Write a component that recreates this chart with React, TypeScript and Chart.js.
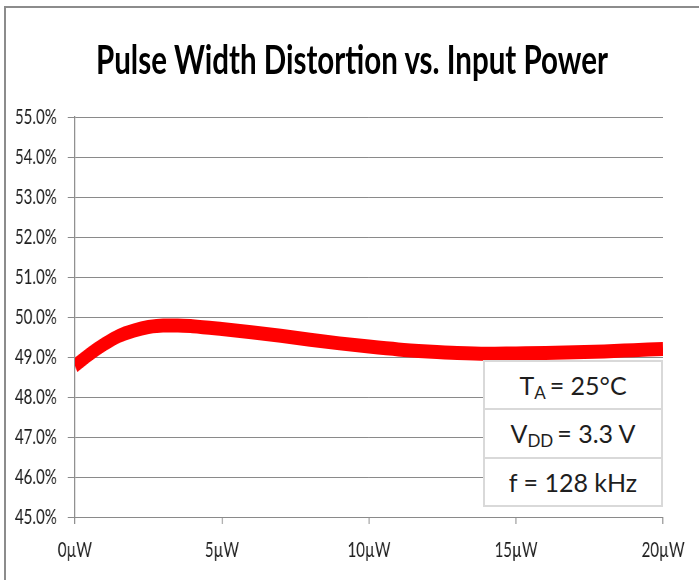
import React, { useEffect, useRef } from 'react';
import { Chart, registerables } from 'chart.js';

Chart.register(...registerables);

const TITLE = 'Pulse Width Distortion vs. Input Power';

// Input power (µW) and pulse width distortion (%)
const inputPowerUW = [0, 0.5, 1, 1.5, 2, 2.5, 3, 3.5, 4, 5, 6, 7, 8, 9, 10, 11, 12, 13, 14, 15, 16, 17, 18, 19, 20];
const pwdPercent = [48.78, 49.07, 49.32, 49.53, 49.66, 49.75, 49.79, 49.79, 49.77, 49.7, 49.62, 49.53, 49.43, 49.34, 49.26, 49.19, 49.14, 49.1, 49.08, 49.09, 49.1, 49.12, 49.14, 49.17, 49.2];

const xTickValues = [0, 5, 10, 15, 20];
const xTickLabels = ['0µW', '5µW', '10µW', '15µW', '20µW'];
const yTickValues = [45, 46, 47, 48, 49, 50, 51, 52, 53, 54, 55];
const yTickLabels = ['45.0%', '46.0%', '47.0%', '48.0%', '49.0%', '50.0%', '51.0%', '52.0%', '53.0%', '54.0%', '55.0%'];

const W = 699;
const H = 580;
const SQUEEZE = 0.72;
const CW = Math.round(W / SQUEEZE);
const GRID = '#8a8a8a';
const TEXT = '#1e1e1e';

export default function App() {
  const ref = useRef<HTMLCanvasElement>(null);

  useEffect(() => {
    document.body.style.margin = '0';
    const canvas = ref.current!;
    const chart = new Chart(canvas, {
      type: 'line',
      data: {
        datasets: [
          {
            data: inputPowerUW.map((x, i) => ({ x, y: pwdPercent[i] })),
            borderColor: '#ff0000',
            backgroundColor: '#ff0000',
            borderWidth: 14,
            pointRadius: 0,
            cubicInterpolationMode: 'monotone',
            borderCapStyle: 'butt',
            borderJoinStyle: 'round',
            fill: false,
          },
        ],
      },
      options: {
        responsive: false,
        animation: false,
        devicePixelRatio: 1,
        layout: { padding: { top: 117, right: 50, left: 0, bottom: 0 } },
        plugins: {
          legend: { display: false },
          tooltip: { enabled: false },
          title: { display: false },
        },
        scales: {
          x: {
            type: 'linear',
            min: 0,
            max: 20,
            afterBuildTicks: (s: any) => {
              s.ticks = xTickValues.map((v) => ({ value: v }));
            },
            afterFit: (s: any) => {
              s.height = 63;
            },
            ticks: {
              callback: (v: any) => xTickLabels[xTickValues.indexOf(Number(v))],
              color: TEXT,
              font: { family: 'Lato', size: 21 },
              padding: 14,
              maxRotation: 0,
              autoSkip: false,
            },
            grid: {
              drawOnChartArea: false,
              drawTicks: true,
              tickLength: 7,
              lineWidth: 1.4,
              color: GRID,
            },
            border: { color: GRID, width: 1 },
          },
          y: {
            type: 'linear',
            min: 45,
            max: 55,
            afterBuildTicks: (s: any) => {
              s.ticks = yTickValues.map((v) => ({ value: v }));
            },
            afterFit: (s: any) => {
              s.width = 104;
            },
            ticks: {
              callback: (v: any) => yTickLabels[yTickValues.indexOf(Number(v))],
              color: TEXT,
              font: { family: 'Lato', size: 21 },
              padding: 15,
              autoSkip: false,
            },
            grid: {
              color: GRID,
              lineWidth: 1,
              tickLength: 10,
            },
            border: { color: GRID, width: 1.4 },
          },
        },
      },
    } as any);
    return () => chart.destroy();
  }, []);

  const rowStyle: React.CSSProperties = {
    flex: 1,
    display: 'flex',
    alignItems: 'center',
    justifyContent: 'center',
    fontFamily: 'Lato, sans-serif',
    fontSize: 25,
    color: TEXT,
    whiteSpace: 'nowrap',
  };
  const subStyle: React.CSSProperties = {
    fontSize: 17,
    position: 'relative',
    top: 7,
    marginRight: 4,
  };

  return (
    <div style={{ position: 'fixed', left: 0, top: 0, width: W, height: H, overflow: 'hidden', background: '#fff' }}>
      <div
        style={{
          position: 'absolute',
          left: 4,
          top: 6,
          width: 800,
          height: 700,
          borderLeft: '2px solid #8c8c8c',
          borderTop: '2px solid #8c8c8c',
        }}
      />
      <canvas
        ref={ref}
        width={CW}
        height={H}
        style={{ position: 'absolute', left: 0, top: 0, width: W, height: H, display: 'block' }}
      />
      <div
        style={{
          position: 'absolute',
          left: 352 - 500,
          top: 35,
          width: 1000,
          lineHeight: '48px',
          textAlign: 'center',
          fontFamily: 'Lato, sans-serif',
          fontWeight: 700,
          fontSize: 41,
          color: '#000',
          whiteSpace: 'nowrap',
          transform: 'scaleX(0.72)',
          transformOrigin: '50% 50%',
        }}
      >
        {TITLE}
      </div>
      <div
        style={{
          position: 'absolute',
          left: 483,
          top: 360,
          width: 180,
          height: 147,
          boxSizing: 'border-box',
          border: '2px solid #d9d9d9',
          background: '#fff',
          display: 'flex',
          flexDirection: 'column',
        }}
      >
        <div style={{ ...rowStyle, borderBottom: '2px solid #d9d9d9' }}>
          <span>T</span>
          <span style={subStyle}>A</span>
          <span>= 25°C</span>
        </div>
        <div style={{ ...rowStyle, borderBottom: '2px solid #d9d9d9' }}>
          <span>V</span>
          <span style={subStyle}>DD</span>
          <span>= 3.3 V</span>
        </div>
        <div style={rowStyle}>
          <span>f = 128 kHz</span>
        </div>
      </div>
    </div>
  );
}
